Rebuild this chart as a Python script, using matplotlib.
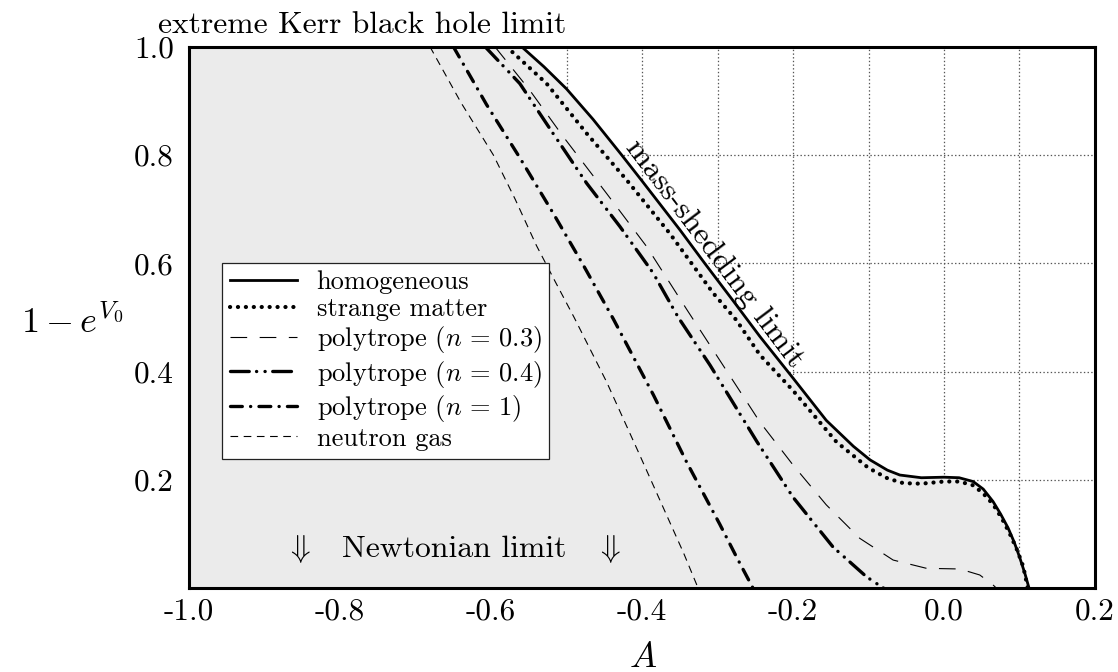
import matplotlib
matplotlib.use('Agg')
import matplotlib.pyplot as plt
from matplotlib.ticker import MultipleLocator

plt.rcParams.update({
    'font.family': 'serif',
    'font.serif': ['cmr10'],
    'mathtext.fontset': 'cm',
    'axes.unicode_minus': False,
    'axes.formatter.use_mathtext': True,
    'lines.scale_dashes': False,
})

# ── data: A (x) and 1 - e^{V0} (y) ─────────────────────────────────────────
hom_A = [-0.5596, -0.53, -0.50, -0.465, -0.427, -0.40, -0.35, -0.317, -0.28,
         -0.244, -0.20, -0.156, -0.12, -0.098, -0.075, -0.0585, -0.03, 0.00,
         0.02, 0.0386, 0.052, 0.065, 0.075, 0.085, 0.093, 0.100, 0.107, 0.1127]
hom_v = [1.000, 0.963, 0.922, 0.866, 0.800, 0.752, 0.662, 0.600, 0.532,
         0.465, 0.388, 0.310, 0.262, 0.237, 0.218, 0.209, 0.204, 0.205,
         0.204, 0.197, 0.183, 0.160, 0.137, 0.111, 0.085, 0.058, 0.028, 0.0]

sm_A = [-0.5795, -0.5265, -0.4735, -0.4205, -0.3632, -0.3058, -0.275, -0.244,
        -0.20, -0.1424, -0.10, -0.075, -0.054, -0.03, 0.00, 0.02, 0.0386,
        0.052, 0.065, 0.077, 0.087, 0.097, 0.105, 0.111]
sm_v = [1.000, 0.932, 0.840, 0.754, 0.655, 0.545, 0.495, 0.431,
        0.365, 0.270, 0.222, 0.203, 0.194, 0.193, 0.197, 0.197, 0.190,
        0.175, 0.155, 0.128, 0.101, 0.070, 0.040, 0.0]

p03_A = [-0.595, -0.549, -0.5045, -0.447, -0.394, -0.34, -0.2528, -0.244,
         -0.20, -0.156, -0.1115, -0.0674, -0.0232, 0.021, 0.0474, 0.065, 0.0695]
p03_v = [1.000, 0.920, 0.834, 0.729, 0.631, 0.513, 0.326, 0.307,
         0.2275, 0.154, 0.092, 0.052, 0.0367, 0.0355, 0.0244, 0.006, 0.0]

p04_A = [-0.608, -0.562, -0.518, -0.4735, -0.4294, -0.3853, -0.352, -0.310,
         -0.248, -0.20, -0.147, -0.1026, -0.080]
p04_v = [1.000, 0.932, 0.840, 0.748, 0.668, 0.582, 0.500, 0.412,
         0.271, 0.168, 0.076, 0.021, 0.0]

p1_A = [-0.650, -0.606, -0.562, -0.518, -0.478, -0.438, -0.385, -0.341,
        -0.297, -0.275, -0.253]
p1_v = [1.000, 0.893, 0.795, 0.693, 0.597, 0.497, 0.357, 0.233,
        0.118, 0.058, 0.0]

ng_A = [-0.681, -0.640, -0.597, -0.568, -0.540, -0.515, -0.490, -0.447,
        -0.407, -0.3675, -0.345, -0.3257]
ng_v = [1.000, 0.897, 0.800, 0.718, 0.633, 0.566, 0.500, 0.381,
        0.258, 0.135, 0.065, 0.0]

xticks = [-1.0, -0.8, -0.6, -0.4, -0.2, 0.0, 0.2]
xtick_labels = ['-1.0', '-0.8', '-0.6', '-0.4', '-0.2', '0.0', '0.2']
yticks = [0.2, 0.4, 0.6, 0.8, 1.0]
ytick_labels = ['0.2', '0.4', '0.6', '0.8', '1.0']

# ── plot ────────────────────────────────────────────────────────────────────
fig = plt.figure(figsize=(11.18, 6.72), dpi=100)
ax = fig.add_axes([0.1692, 0.1247, 0.8102, 0.8058])

ax.fill_between([-1.0] + hom_A, [1.0] + hom_v, 0, color='#ebebeb', lw=0, zorder=1)

ax.plot(hom_A, hom_v, color='k', lw=2.0, label='homogeneous', zorder=3)
ax.plot(sm_A, sm_v, color='k', lw=3.0, ls=(0, (0.1, 5.6)), dash_capstyle='round',
        label='strange matter', zorder=3)
ax.plot(p03_A, p03_v, color='k', lw=0.8, ls=(0, (12, 9)),
        label=r'polytrope ($n\,=\,0.3$)', zorder=3)
ax.plot(p04_A, p04_v, color='k', lw=2.4, ls=(0, (13.5, 5.25, 0.1, 6, 0.1, 5.45)),
        dash_capstyle='round', label=r'polytrope ($n\,=\,0.4$)', zorder=3)
ax.plot(p1_A, p1_v, color='k', lw=2.4, ls=(0, (8.5, 5.95, 0.1, 5.95)),
        dash_capstyle='round', label=r'polytrope ($n\,=\,1$)', zorder=3)
ax.plot(ng_A, ng_v, color='k', lw=0.8, ls=(0, (5.5, 4)),
        label='neutron gas', zorder=3)

ax.set_xlim(-1.0, 0.2)
ax.set_ylim(0, 1.0)
ax.set_xticks(xticks)
ax.set_xticklabels(xtick_labels)
ax.set_yticks(yticks)
ax.set_yticklabels(ytick_labels)
ax.xaxis.set_minor_locator(MultipleLocator(0.1))
ax.tick_params(which='major', direction='in', length=8.5, width=1.2,
               labelsize=22.5, top=False, right=False)
ax.tick_params(axis='x', which='major', pad=7)
ax.tick_params(axis='y', which='major', pad=11)
ax.tick_params(which='minor', length=0)
ax.grid(True, which='both', axis='x', ls=':', color='#555555', lw=0.9)
ax.grid(True, which='major', axis='y', ls=':', color='#555555', lw=0.9)
ax.set_axisbelow(True)
for s in ax.spines.values():
    s.set_linewidth(2.2)

leg = ax.legend(loc='upper left', bbox_to_anchor=(0.0359, 0.601), borderaxespad=0,
                fontsize=19, handlelength=2.55, handletextpad=0.75, labelspacing=0.12,
                borderpad=0.3, fancybox=False, edgecolor='#222222', framealpha=1)
leg.get_frame().set_linewidth(0.9)

# annotations
fig.text(158 / 1118, 1 - 33 / 672, 'extreme Kerr black hole limit', fontsize=22.7,
         ha='left', va='baseline')
ax.text(-0.798, 0.0576, 'Newtonian limit', fontsize=22.8, ha='left', va='baseline')
ax.text(-0.8555, 0.0576, r'$\Downarrow$', fontsize=23, ha='center', va='baseline')
ax.text(-0.4455, 0.0576, r'$\Downarrow$', fontsize=23, ha='center', va='baseline')
ax.annotate('mass-shedding limit', xy=(-0.319, 0.604), xytext=(8.0, 5.6),
            textcoords='offset points', rotation=-53, rotation_mode='anchor',
            ha='center', va='center', fontsize=23)

ax.text(-0.129, 0.471, r'$1-e^{V_0}$', transform=ax.transAxes, fontsize=26,
        ha='center', va='baseline')
ax.text(0.501, -0.1455, r'$A$', transform=ax.transAxes, fontsize=26,
        ha='center', va='baseline')

fig.savefig('out.png', dpi=100)
